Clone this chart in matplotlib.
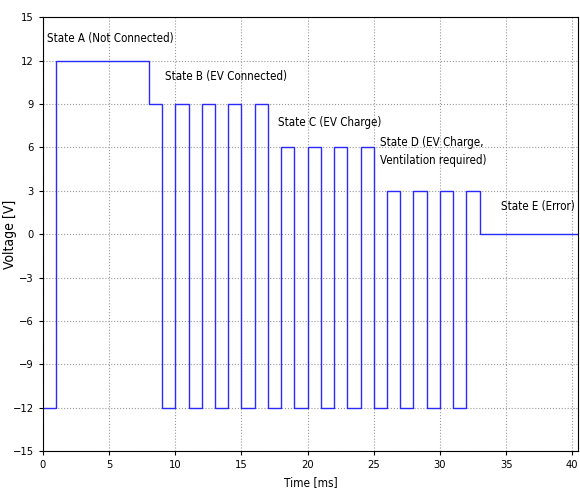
import matplotlib
matplotlib.use('Agg')
import matplotlib.pyplot as plt

plt.rcParams['font.family'] = 'DejaVu Sans'
plt.rcParams['font.stretch'] = 'condensed'

# step signal: level held from each time until the next one
times = [0, 1, 8, 9, 10, 11, 12, 13, 14, 15, 16, 17, 18, 19, 20, 21, 22, 23,
         24, 25, 26, 27, 28, 29, 30, 31, 32, 33, 41]
volts = [-12, 12, 9, -12, 9, -12, 9, -12, 9, -12, 9, -12, 6, -12, 6, -12, 6, -12,
         6, -12, 3, -12, 3, -12, 3, -12, 3, 0, 0]

labels = ['State A (Not Connected)', 'State B (EV Connected)', 'State C (EV Charge)',
          'State D (EV Charge,\nVentilation required)', 'State E (Error)']
label_x = [0.3, 9.2, 17.8, 25.5, 34.6]
label_y = [13.5, 10.9, 7.7, 5.7, 1.9]

fig = plt.figure(figsize=(5.8, 4.91), dpi=100)
ax = fig.add_axes([0.074, 0.081, 0.923, 0.884])

ax.step(times, volts, where='post', color='#2a2aff', lw=1.0)

for t, x, y in zip(labels, label_x, label_y):
    ax.text(x, y, t, fontsize=8.3, va='center', ha='left', linespacing=1.55)

ax.set_xlim(0, 40.45)
ax.set_ylim(-15, 15)
ax.set_xticks(range(0, 41, 5))
ax.set_yticks(range(-15, 16, 3))
ax.grid(True, color='#999999', linestyle=':', linewidth=0.8)
ax.tick_params(labelsize=8, length=3)
ax.set_xlabel('Time [ms]', fontsize=8.5)
ax.set_ylabel('Voltage [V]', fontsize=10)
ax.yaxis.set_label_coords(-0.048, 0.5)

fig.savefig('out.png', dpi=100)
